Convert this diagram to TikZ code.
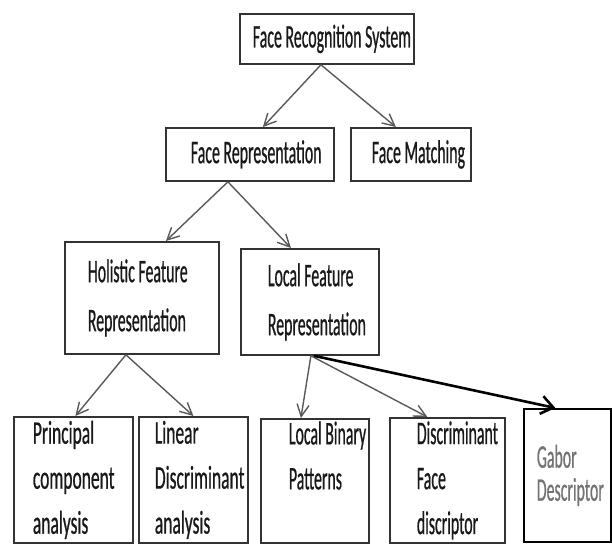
\documentclass[tikz,border=0pt]{standalone}
\usepackage{fontspec}
\newfontfamily\boxfont[FakeStretch=0.48,FakeBold=0.6]{Carlito}
\newfontfamily\wideboxfont[FakeStretch=0.53,FakeBold=0.6]{Carlito}
\usetikzlibrary{arrows.meta}

\begin{document}
\begin{tikzpicture}[x=1pt,y=-1pt,
	box/.style n args={4}{draw=black!80, line width=1.8pt, anchor=north west, inner sep=0pt,
		align=left, text=black!90, minimum width=#1, text width=#1, minimum height=#2,
		font=\boxfont\fontsize{33}{#3}\selectfont,
		execute at begin node={\leftskip=#4\relax\spaceskip=3.6pt\xspaceskip=3.6pt\hyphenpenalty=10000\relax}},
	link/.style={draw=black!65, line width=1.4pt, -{Straight Barb[length=12pt,width=12pt]}},
	mainlink/.style={draw=black, line width=2.6pt, -{Straight Barb[length=12pt,width=18pt]}}]
	\useasboundingbox (0,0) rectangle (612,544);
	\clip (0,0) rectangle (612,544);
	% top levels
	\node[box={174pt}{50pt}{45}{13pt}] (sys) at (239,13) {Face Recognition System};
	\node[box={168pt}{53pt}{45}{25pt}] (rep) at (165,127) {Face Representation};
	\node[box={120pt}{53pt}{45}{21pt}] (match) at (350,127) {Face Matching};
	\node[box={154pt}{112pt}{49}{23pt}] (hol) at (64,241) {Holistic Feature\\Representation};
	\node[box={138pt}{106pt}{49}{27pt}] (loc) at (240,248) {Local Feature\\Representation};
	% methods
	\node[box={119pt}{126pt}{45}{19pt}, font=\wideboxfont\fontsize{33}{45}\selectfont] (pca) at (13,416) {Principal\\component\\analysis};
	\node[box={109pt}{126pt}{45}{16pt}, font=\wideboxfont\fontsize{33}{45}\selectfont] (lda) at (138,416) {Linear\\Discriminant\\analysis};
	\node[box={108pt}{124pt}{45}{28pt}, text depth=96pt] (lbp) at (260,418) {Local Binary\\Patterns};
	\node[box={115pt}{125pt}{45}{27pt}] (dfd) at (389,417) {Discriminant\\Face\\discriptor};
	\node[box={87pt}{133pt}{33}{13pt}, draw=black, text=black!55] (gab) at (523,408) {Gabor\\Descriptor};
	% arrows
	\draw[link] ([xshift=-6pt]sys.south) -- ([xshift=13pt]rep.north);
	\draw[link] ([xshift=-6pt]sys.south) -- ([xshift=-15pt]match.north);
	\draw[link] ([xshift=-22pt]rep.south) -- ([xshift=24pt]hol.north);
	\draw[link] ([xshift=-22pt]rep.south) -- ([xshift=-19pt]loc.north);
	\draw[link] ([xshift=-16pt]hol.south) -- ([xshift=2pt]pca.north);
	\draw[link] ([xshift=-16pt]hol.south) -- (lda.north);
	\draw[link] ([xshift=1pt]loc.south) -- ([xshift=-14pt]lbp.north);
	\draw[link] ([xshift=1pt]loc.south) -- ([xshift=-20pt]dfd.north);
	\draw[mainlink] ([xshift=4pt]loc.south) -- ([xshift=-12pt]gab.north);
\end{tikzpicture}
\end{document}
